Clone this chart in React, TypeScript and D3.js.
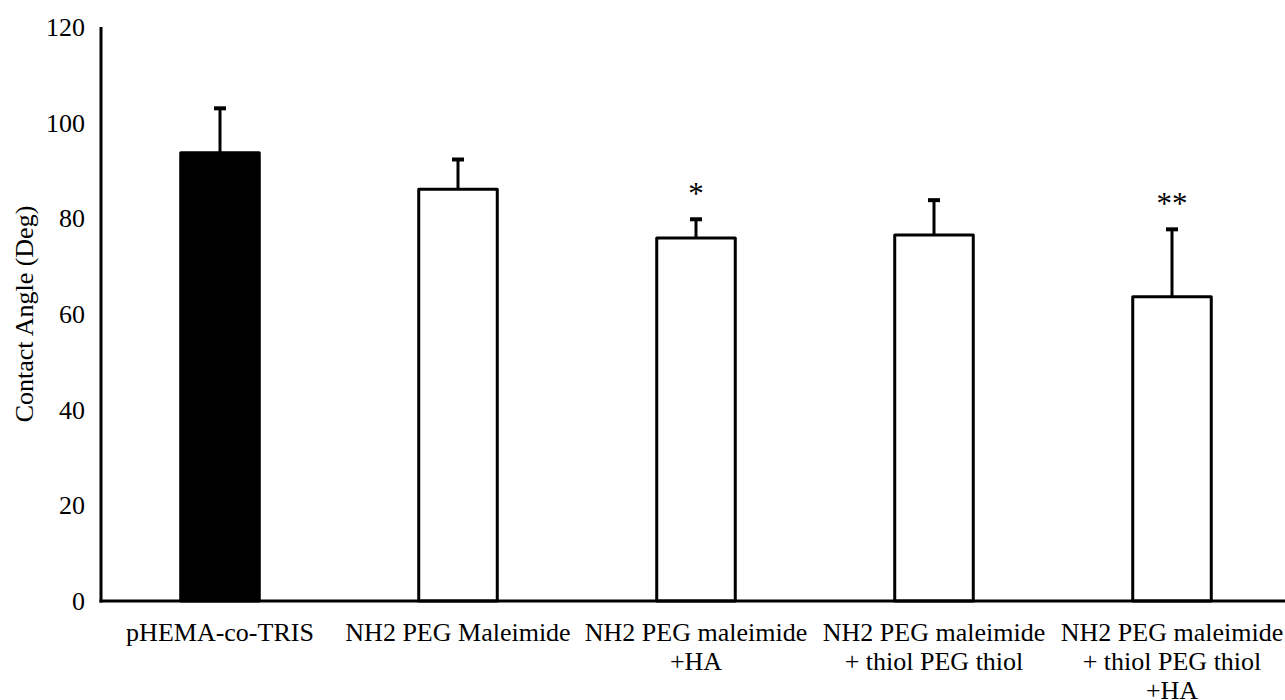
import React from "react";
import * as d3 from "d3";

// Contact angle per surface treatment (mean ± SD, degrees)
const categories: string[][] = [
  ["pHEMA-co-TRIS"],
  ["NH2 PEG Maleimide"],
  ["NH2 PEG maleimide", "+HA"],
  ["NH2 PEG maleimide", "+ thiol PEG thiol"],
  ["NH2 PEG maleimide", "+ thiol PEG thiol", "+HA"],
];
const means: number[] = [93.7, 86.1, 75.9, 76.5, 63.6];
const errors: number[] = [9.3, 6.2, 3.9, 7.3, 14.1];
const significance: string[] = ["", "", "*", "", "**"];
const yTicks: number[] = [0, 20, 40, 60, 80, 100, 120];

const W = 1285;
const H = 700;
const FONT = "'Liberation Serif', 'Times New Roman', serif";

export default function App() {
  const x0 = 101;
  const x1 = 1291;
  const yTop = 27;
  const yBase = 601;

  const x = d3
    .scaleBand<number>()
    .domain(d3.range(categories.length))
    .range([x0, x1])
    .paddingInner(0.67)
    .paddingOuter(0.335);
  const y = d3.scaleLinear().domain([0, 120]).range([yBase, yTop]);

  const bw = x.bandwidth();

  return (
    <svg
      width={W}
      height={H}
      style={{ position: "absolute", left: 0, top: 0, background: "#fff" }}
      fontFamily={FONT}
    >
      <rect width={W} height={H} fill="#fff" />

      {/* bars */}
      {means.map((m, i) => (
        <rect
          key={"bar" + i}
          x={x(i)!}
          y={y(m)}
          width={bw}
          height={yBase - y(m)}
          fill={i === 0 ? "#000" : "#fff"}
          stroke="#000"
          strokeWidth={3}
          strokeLinejoin="round"
        />
      ))}

      {/* upper error bars */}
      {means.map((m, i) => {
        const cx = x(i)! + bw / 2;
        const top = y(m + errors[i]);
        return (
          <g key={"err" + i} stroke="#000">
            <line x1={cx} x2={cx} y1={y(m)} y2={top} strokeWidth={3} />
            <line x1={cx - 6} x2={cx + 6} y1={top} y2={top} strokeWidth={4} />
          </g>
        );
      })}

      {/* significance markers */}
      {means.map((m, i) =>
        significance[i] ? (
          <text
            key={"sig" + i}
            x={x(i)! + bw / 2}
            y={y(m + errors[i]) - 15}
            textAnchor="middle"
            fontSize={31}
            fill="#000"
          >
            {significance[i]}
          </text>
        ) : null
      )}

      {/* axes */}
      <line x1={x0} x2={x0} y1={yTop} y2={yBase + 1.5} stroke="#000" strokeWidth={3} />
      <line x1={x0 - 1.5} x2={x1} y1={yBase} y2={yBase} stroke="#000" strokeWidth={3} />

      {/* y tick labels */}
      {yTicks.map((t) => (
        <text
          key={"yt" + t}
          x={85}
          y={y(t)}
          dy="0.34em"
          textAnchor="end"
          fontSize={26}
          fill="#000"
        >
          {t}
        </text>
      ))}

      {/* y axis title */}
      <text
        transform={`translate(24,${(yTop + yBase) / 2}) rotate(-90)`}
        textAnchor="middle"
        dy="0.34em"
        fontSize={26}
        fill="#000"
      >
        Contact Angle (Deg)
      </text>

      {/* category labels */}
      {categories.map((lines, i) => (
        <text
          key={"cat" + i}
          x={x(i)! + bw / 2}
          y={641}
          textAnchor="middle"
          fontSize={26}
          fill="#000"
        >
          {lines.map((l, j) => (
            <tspan key={j} x={x(i)! + bw / 2} y={641 + j * 29}>
              {l}
            </tspan>
          ))}
        </text>
      ))}
    </svg>
  );
}
